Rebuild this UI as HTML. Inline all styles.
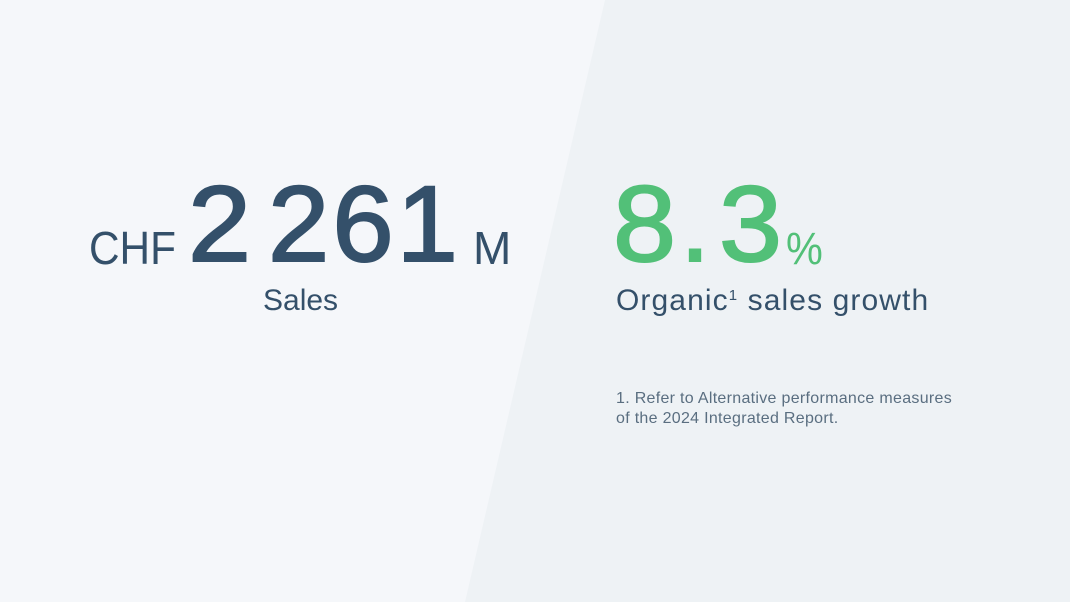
<!DOCTYPE html>
<html><head><style>
body{margin:0;width:1070px;height:602px;overflow:hidden;background:#f5f7fa;font-family:"Liberation Sans",sans-serif;position:relative}
.t{position:absolute;line-height:1;white-space:nowrap;color:#34506a}
.b{-webkit-text-stroke:2px #34506a}
.g{-webkit-text-stroke:2px #52c078;color:#52c078}
</style></head><body>
<svg width="1070" height="602" style="position:absolute;left:0;top:0"><polygon points="605,0 1070,0 1070,602 465,602" fill="#eef2f5"/></svg>
<div class="t" style="left:89px;top:225px;font-size:46px;transform:scaleX(0.92);transform-origin:left">CHF</div>
<div class="t b" style="left:188px;top:170px;font-size:108px;transform:scaleX(1.05);transform-origin:left">2</div>
<div class="t b" style="left:268px;top:170px;font-size:108px;letter-spacing:3px;transform:scaleX(1.02);transform-origin:left">261</div>
<div class="t" style="left:473px;top:225px;font-size:46px">M</div>
<div class="t" style="left:263px;top:286px;font-size:30px">Sales</div>
<div class="t g" style="left:613px;top:170px;font-size:108px;transform:scaleX(1.05);transform-origin:left">8</div>
<div class="t g" style="left:680px;top:170px;font-size:108px">.</div>
<div class="t g" style="left:719px;top:170px;font-size:108px;transform:scaleX(1.05);transform-origin:left">3</div>
<div class="t" style="left:786px;top:226px;font-size:45px;color:#52c078;transform:scaleX(0.92);transform-origin:left">%</div>
<div class="t" style="left:616px;top:286px;font-size:30px;letter-spacing:1.1px">Organic<span style="font-size:15px;vertical-align:10px">1</span> sales growth</div>
<div class="t" style="left:616px;top:389px;font-size:16px;line-height:20px;color:#5a6e80;letter-spacing:0.3px">1. Refer to Alternative performance measures<br>of the 2024 Integrated Report.</div>
</body></html>
